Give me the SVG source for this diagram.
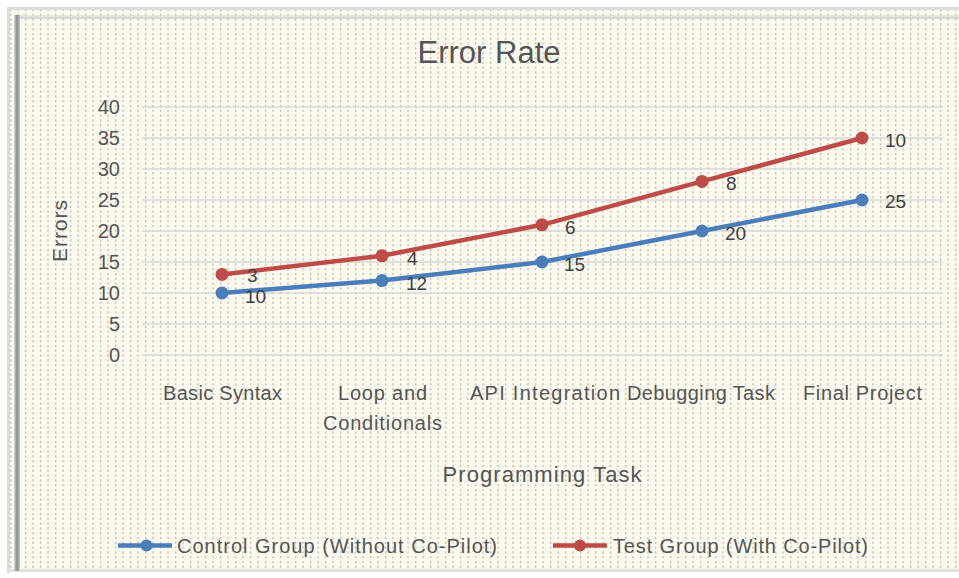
<svg xmlns="http://www.w3.org/2000/svg" width="959" height="578" viewBox="0 0 959 578">
  <defs>
    <pattern id="dots" x="8" y="8" width="7.5" height="4.8" patternUnits="userSpaceOnUse">
      <rect x="2" y="1" width="1.2" height="2" fill="#b3b0a6"/>
    </pattern>
    <linearGradient id="leftEdge" x1="0" y1="0" x2="1" y2="0">
      <stop offset="0" stop-color="#d8d8d8"/>
      <stop offset="0.5" stop-color="#8a8a8a"/>
      <stop offset="1" stop-color="#c8c8c8"/>
    </linearGradient>
    <linearGradient id="topEdge" x1="0" y1="0" x2="0" y2="1">
      <stop offset="0" stop-color="#e0e0e0"/>
      <stop offset="1" stop-color="#b8b8b8"/>
    </linearGradient>
    <style>
      text { font-family: "Liberation Sans", Arial, sans-serif; fill: #555555; }
      .tick { font-size: 20px; text-anchor: end; }
      .cat { font-size: 20px; text-anchor: middle; }
      .lbl { font-size: 19px; fill: #404040; }
      .grid { stroke: #d9d9d9; stroke-width: 1.6; }
      .s1 { stroke: #4a7ebb; fill: none; stroke-width: 4.5; stroke-linejoin: round; }
      .s2 { stroke: #be4b48; fill: none; stroke-width: 4.5; stroke-linejoin: round; }
      .m1 { fill: #4a7ebb; }
      .m2 { fill: #be4b48; }
    </style>
  </defs>

  <!-- chart area: cream fill with fine dot texture -->
  <rect x="0" y="0" width="959" height="578" fill="#ffffff"/>
  <rect x="8" y="8" width="951" height="564" fill="#fcfaef"/>
  <rect x="8" y="8" width="951" height="564" fill="url(#dots)"/>
  <!-- frame -->
  <rect x="8" y="7" width="951" height="3" fill="#dcdcdc"/>
  <rect x="7" y="7" width="3" height="566" fill="#dcdcdc"/>
  <rect x="8" y="569" width="951" height="3" fill="#e2e2e2"/>
  <rect x="15" y="15" width="944" height="4" fill="url(#topEdge)" opacity="0.6"/>
  <rect x="14" y="15" width="6" height="556" fill="url(#leftEdge)"/>

  <!-- title -->
  <text x="489" y="63" font-size="31" text-anchor="middle">Error Rate</text>

  <!-- value axis -->
  <g id="gridlines">
    <line class="grid" x1="142" y1="107" x2="943" y2="107"/>
    <line class="grid" x1="142" y1="138" x2="943" y2="138"/>
    <line class="grid" x1="142" y1="169" x2="943" y2="169"/>
    <line class="grid" x1="142" y1="200" x2="943" y2="200"/>
    <line class="grid" x1="142" y1="231" x2="943" y2="231"/>
    <line class="grid" x1="142" y1="262" x2="943" y2="262"/>
    <line class="grid" x1="142" y1="293" x2="943" y2="293"/>
    <line class="grid" x1="142" y1="324" x2="943" y2="324"/>
    <line class="grid" x1="142" y1="355" x2="943" y2="355"/>
  </g>
  <g id="y-ticks">
    <text class="tick" x="120" y="114">40</text>
    <text class="tick" x="120" y="145">35</text>
    <text class="tick" x="120" y="176">30</text>
    <text class="tick" x="120" y="207">25</text>
    <text class="tick" x="120" y="238">20</text>
    <text class="tick" x="120" y="269">15</text>
    <text class="tick" x="120" y="300">10</text>
    <text class="tick" x="120" y="331">5</text>
    <text class="tick" x="120" y="362">0</text>
  </g>
  <text x="0" y="0" font-size="21" text-anchor="middle" transform="translate(67 231) rotate(-90)" textLength="62">Errors</text>

  <!-- category axis -->
  <g id="x-categories">
    <text class="cat" x="222.5" y="400" textLength="119">Basic Syntax</text>
    <text class="cat" x="382.5" y="400" textLength="89">Loop and</text>
    <text class="cat" x="382.5" y="429.5" textLength="119">Conditionals</text>
    <text class="cat" x="545" y="400" textLength="150">API Integration</text>
    <text class="cat" x="701" y="400" textLength="148">Debugging Task</text>
    <text class="cat" x="862.5" y="400" textLength="119">Final Project</text>
  </g>
  <text x="542" y="482" font-size="22" text-anchor="middle" textLength="199">Programming Task</text>

  <!-- series lines -->
  <g id="connectors">
    <polyline id="control-line" class="s1" points="222,293 382,280.6 542,262 702,231 862,200"/>
    <polyline id="test-line" class="s2" points="222,274.4 382,255.8 542,224.8 702,181.4 862,138"/>
  </g>

  <!-- control group points -->
  <g id="control-points">
    <g id="c-basic"><circle class="m1" cx="222" cy="293" r="6.5"/><text class="lbl" x="245" y="303">10</text></g>
    <g id="c-loop"><circle class="m1" cx="382" cy="280.6" r="6.5"/><text class="lbl" x="406" y="290">12</text></g>
    <g id="c-api"><circle class="m1" cx="542" cy="262" r="6.5"/><text class="lbl" x="564" y="271">15</text></g>
    <g id="c-debug"><circle class="m1" cx="702" cy="231" r="6.5"/><text class="lbl" x="725" y="240">20</text></g>
    <g id="c-final"><circle class="m1" cx="862" cy="200" r="6.5"/><text class="lbl" x="885" y="208">25</text></g>
  </g>

  <!-- test group points -->
  <g id="test-points">
    <g id="t-basic"><circle class="m2" cx="222" cy="274.4" r="6.5"/><text class="lbl" x="247" y="282">3</text></g>
    <g id="t-loop"><circle class="m2" cx="382" cy="255.8" r="6.5"/><text class="lbl" x="407" y="265">4</text></g>
    <g id="t-api"><circle class="m2" cx="542" cy="224.8" r="6.5"/><text class="lbl" x="565" y="234">6</text></g>
    <g id="t-debug"><circle class="m2" cx="702" cy="181.4" r="6.5"/><text class="lbl" x="726" y="190">8</text></g>
    <g id="t-final"><circle class="m2" cx="862" cy="138" r="6.5"/><text class="lbl" x="885" y="147">10</text></g>
  </g>

  <!-- legend -->
  <g id="legend">
    <g id="legend-control">
      <line class="s1" x1="118" y1="545.5" x2="172" y2="545.5" stroke-width="4"/>
      <circle class="m1" cx="146.5" cy="545.5" r="6"/>
      <text x="177" y="553" font-size="20" textLength="320">Control Group (Without Co-Pilot)</text>
    </g>
    <g id="legend-test">
      <line class="s2" x1="553" y1="545.5" x2="607" y2="545.5" stroke-width="4"/>
      <circle class="m2" cx="580" cy="545.5" r="6"/>
      <text x="613" y="553" font-size="20" textLength="255">Test Group (With Co-Pilot)</text>
    </g>
  </g>
</svg>
